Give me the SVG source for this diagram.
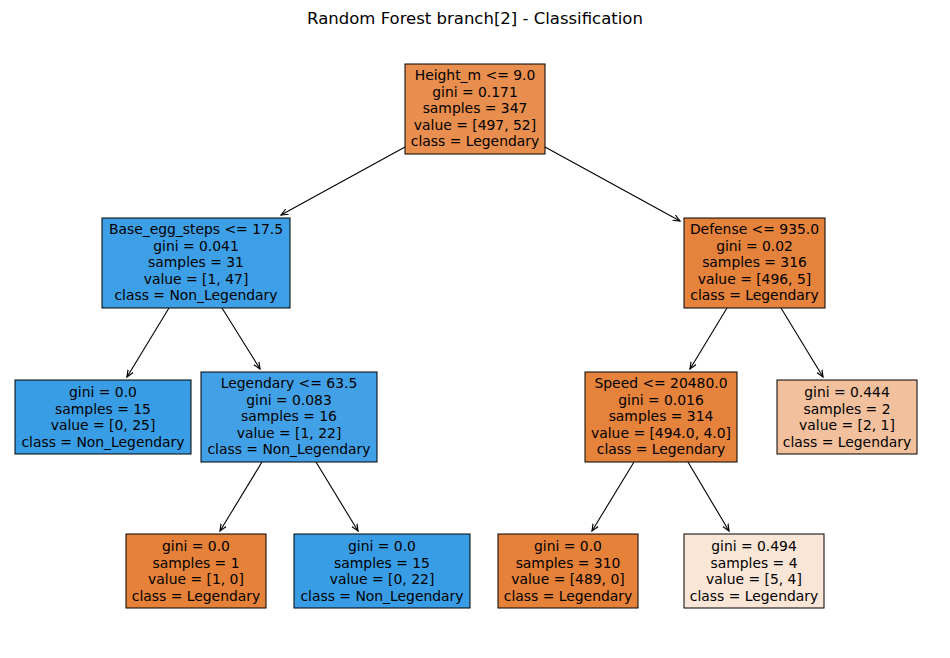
<svg xmlns="http://www.w3.org/2000/svg" width="950" height="658" viewBox="0 0 950 658">
<style>
text{font-family:"DejaVu Sans",sans-serif;font-size:13.9px;fill:#000;text-anchor:middle}
.title{font-size:16.5px}
rect{stroke:#000;stroke-width:1}
.e line{stroke:#000;stroke-width:1.1;marker-end:url(#a)}
</style>
<defs>
<marker id="a" markerWidth="10" markerHeight="10" refX="7" refY="4" orient="auto" markerUnits="userSpaceOnUse">
<polyline points="0,1 7,4 0,7" fill="none" stroke="#000" stroke-width="1.2"/>
</marker>
</defs>
<rect x="0" y="0" width="950" height="658" fill="#fff" style="stroke:none"/>
<text class="title" x="475" y="24">Random Forest branch[2] - Classification</text>
<g class="e">
<line x1="405" y1="147" x2="281" y2="215"/>
<line x1="545" y1="147" x2="680" y2="221"/>
<line x1="169" y1="308" x2="127" y2="377"/>
<line x1="222" y1="308" x2="260" y2="369"/>
<line x1="727" y1="308" x2="690" y2="369"/>
<line x1="781" y1="308" x2="823" y2="377"/>
<line x1="262" y1="462" x2="220" y2="531"/>
<line x1="316" y1="462" x2="358" y2="531"/>
<line x1="634" y1="462" x2="592" y2="531"/>
<line x1="688" y1="462" x2="729" y2="531"/>
</g>
<g id="n0"><rect x="405" y="64" width="140" height="90" fill="#e88e4e"/>
<text x="475" y="80">Height_m &lt;= 9.0</text><text x="475" y="96.5">gini = 0.171</text><text x="475" y="113">samples = 347</text><text x="475" y="129.5">value = [497, 52]</text><text x="475" y="146">class = Legendary</text></g>
<g id="n1"><rect x="102" y="218" width="188" height="90" fill="#3d9fe6"/>
<text x="196" y="234">Base_egg_steps &lt;= 17.5</text><text x="196" y="250.5">gini = 0.041</text><text x="196" y="267">samples = 31</text><text x="196" y="283.5">value = [1, 47]</text><text x="196" y="300">class = Non_Legendary</text></g>
<g id="n2"><rect x="15" y="380" width="176" height="74" fill="#399de5"/>
<text x="103" y="397">gini = 0.0</text><text x="103" y="413.5">samples = 15</text><text x="103" y="430">value = [0, 25]</text><text x="103" y="446.5">class = Non_Legendary</text></g>
<g id="n3"><rect x="201" y="372" width="176" height="90" fill="#42a1e6"/>
<text x="289" y="388">Legendary &lt;= 63.5</text><text x="289" y="404.5">gini = 0.083</text><text x="289" y="421">samples = 16</text><text x="289" y="437.5">value = [1, 22]</text><text x="289" y="454">class = Non_Legendary</text></g>
<g id="n4"><rect x="126" y="534" width="140" height="74" fill="#e58139"/>
<text x="196" y="551">gini = 0.0</text><text x="196" y="567.5">samples = 1</text><text x="196" y="584">value = [1, 0]</text><text x="196" y="600.5">class = Legendary</text></g>
<g id="n5"><rect x="294" y="534" width="176" height="74" fill="#399de5"/>
<text x="382" y="551">gini = 0.0</text><text x="382" y="567.5">samples = 15</text><text x="382" y="584">value = [0, 22]</text><text x="382" y="600.5">class = Non_Legendary</text></g>
<g id="n6"><rect x="684" y="218" width="141" height="90" fill="#e5823b"/>
<text x="754.5" y="234">Defense &lt;= 935.0</text><text x="754.5" y="250.5">gini = 0.02</text><text x="754.5" y="267">samples = 316</text><text x="754.5" y="283.5">value = [496, 5]</text><text x="754.5" y="300">class = Legendary</text></g>
<g id="n7"><rect x="585" y="372" width="152" height="90" fill="#e5823b"/>
<text x="661" y="388">Speed &lt;= 20480.0</text><text x="661" y="404.5">gini = 0.016</text><text x="661" y="421">samples = 314</text><text x="661" y="437.5">value = [494.0, 4.0]</text><text x="661" y="454">class = Legendary</text></g>
<g id="n8"><rect x="498" y="534" width="140" height="74" fill="#e58139"/>
<text x="568" y="551">gini = 0.0</text><text x="568" y="567.5">samples = 310</text><text x="568" y="584">value = [489, 0]</text><text x="568" y="600.5">class = Legendary</text></g>
<g id="n9"><rect x="684" y="534" width="140" height="74" fill="#fae6d7"/>
<text x="754" y="551">gini = 0.494</text><text x="754" y="567.5">samples = 4</text><text x="754" y="584">value = [5, 4]</text><text x="754" y="600.5">class = Legendary</text></g>
<g id="n10"><rect x="777" y="380" width="140" height="74" fill="#f2c09c"/>
<text x="847" y="397">gini = 0.444</text><text x="847" y="413.5">samples = 2</text><text x="847" y="430">value = [2, 1]</text><text x="847" y="446.5">class = Legendary</text></g>
</svg>
